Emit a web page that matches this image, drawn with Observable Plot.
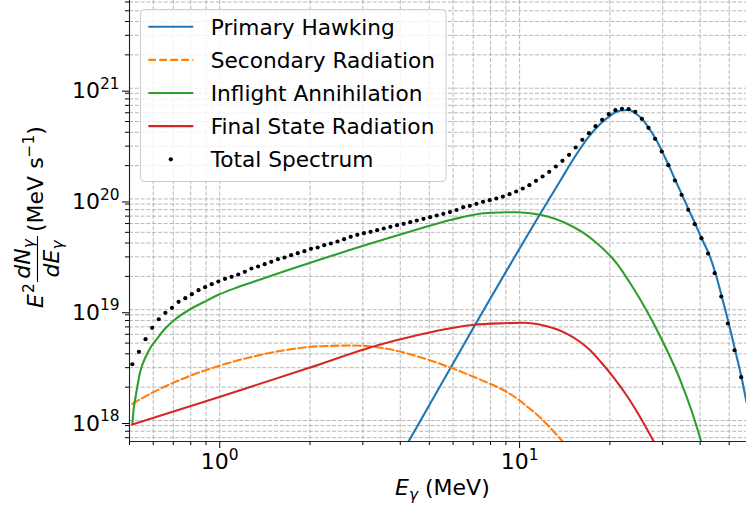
<!DOCTYPE html>
<html><head><meta charset="utf-8">
<script src="https://cdn.jsdelivr.net/npm/d3@7"></script>
<script src="https://cdn.jsdelivr.net/npm/@observablehq/plot@0.6"></script>
<style>
html,body{margin:0;padding:0;background:#fff;}
#chart{width:746px;height:506px;overflow:hidden;}
svg{font-family:"DejaVu Sans",sans-serif;}
</style></head><body><div id="chart"></div>
<script>
// ---------- data ----------
const seriesNames = ["Primary Hawking","Secondary Radiation","Inflight Annihilation","Final State Radiation","Total Spectrum"];

const E_total = [0.511,0.5377,0.5655,0.595,0.626,0.6586,0.6929,0.729,0.7674,0.8072,
0.8494,0.8937,0.9402,0.9892,1.0409,1.0952,1.1522,1.2123,1.2755,1.3419,
1.4119,1.4855,1.5629,1.6444,1.7302,1.8205,1.9154,2.0153,2.1204,2.2307,
2.347,2.4694,2.5981,2.7336,2.8761,3.0259,3.1838,3.3497,3.5244,3.7076,
3.901,4.1044,4.3179,4.5431,4.7799,5.0292,5.2915,5.5674,5.8577,6.1631,
6.4844,6.8234,7.1779,7.5522,7.947,8.3603,8.7963,9.255,9.7387,10.245,
10.779,11.342,11.93,12.553,13.208,13.895,14.622,15.385,16.188,17.028,
17.917,18.852,19.832,20.866,21.955,23.097,24.302,25.57,26.904,28.305,
29.785,31.338,32.966,34.688,36.497,38.398,40.402,42.511,44.728,47.053,
49.508,52.091,54.802];
const total = [3.22e18,4.17e18,5.42e18,6.87e18,8.21e18,9.38e18,1.041e19,1.179e19,1.271e19,1.381e19,
1.501e19,1.597e19,1.700e19,1.798e19,1.902e19,1.983e19,2.080e19,2.20e19,2.356e19,2.456e19,
2.576e19,2.71e19,2.858e19,2.961e19,3.107e19,3.238e19,3.376e19,3.548e19,3.645e19,3.824e19,
3.962e19,4.130e19,4.332e19,4.553e19,4.746e19,4.907e19,5.052e19,5.224e19,5.411e19,5.606e19,
5.795e19,5.966e19,6.168e19,6.390e19,6.620e19,6.844e19,7.090e19,7.345e19,7.62e19,7.95e19,
8.426e19,8.676e19,9.044e19,9.428e19,9.746e19,1.010e20,1.052e20,1.104e20,1.168e20,1.243e20,
1.331e20,1.458e20,1.595e20,1.759e20,1.963e20,2.211e20,2.505e20,2.915e20,3.421e20,3.924e20,
4.540e20,5.183e20,5.825e20,6.329e20,6.516e20,6.462e20,6.122e20,5.292e20,4.389e20,3.492e20,
2.683e20,2.017e20,1.468e20,1.090e20,7.982e19,5.918e19,4.423e19,3.218e19,2.137e19,1.317e19,
7.51e18,4.31e18,2.46e18];

const E_primary = [4.262,7.023,11.72,13.68,15.14,16.79,18.60,20.08,21.69,23.11,24.66,25.67,26.95,28.44,29.87,31.43,33.09,34.83,36.65,38.58,40.42,42.74,45.0,47.23,49.84,52.36,54.95,57.11];
const primary = [6.46e17,6.911e18,7.345e19,1.468e20,2.305e20,3.492e20,4.770e20,5.668e20,6.29e20,6.356e20,5.789e20,5.238e20,4.389e20,3.492e20,2.683e20,2.017e20,1.468e20,1.09e20,7.982e19,5.918e19,4.423e19,3.218e19,2.137e19,1.317e19,7.51e18,4.31e18,2.46e18,1.463e18];

const E_secondary = [0.511,0.6002,0.7757,1.0023,1.2943,1.6733,2.162,2.7919,3.6101,4.663,6.023,7.785,8.624,9.802,10.69,11.72,12.76,13.92];
const secondary = [1.415e18,1.801e18,2.459e18,3.137e18,3.782e18,4.347e18,4.685e18,4.753e18,4.439e18,3.727e18,2.928e18,2.203e18,1.945e18,1.58e18,1.31e18,1.064e18,8.38e17,6.46e17];

const E_inflight = [0.511,0.5156,0.5236,0.544,0.563,0.5851,0.6175,0.6566,0.7091,0.7838,0.8798,0.9947,1.1422,1.262,1.652,2.162,2.829,3.702,4.663,5.872,7.803,9.802,11.72,14.396,17.66,21.14,23.42,26.63,30.24,34.39,37.63,40.33];
const inflight = [9.2e17,1.231e18,1.613e18,2.828e18,3.628e18,4.467e18,5.467e18,6.726e18,8.161e18,9.84e18,1.162e19,1.373e19,1.587e19,1.743e19,2.237e19,2.841e19,3.585e19,4.488e19,5.411e19,6.458e19,7.469e19,7.594e19,7.194e19,5.966e19,4.217e19,2.598e19,1.725e19,9.64e18,4.956e18,2.296e18,1.181e18,6.46e17];

const E_fsr = [0.511,1.0023,2.0017,3.342,4.663,6.023,7.023,8.843,10.31,12.03,14.40,17.22,18.60,20.60,22.88,25.28,28.02];
const fsr = [9.2e17,1.637e18,3.01e18,4.753e18,5.975e18,6.869e18,7.311e18,7.557e18,7.621e18,7.205e18,6.062e18,4.284e18,3.409e18,2.444e18,1.647e18,1.064e18,6.46e17];

const xMajorTicks = [1, 10];
const xMinorTicks = [0.5,0.6,0.7,0.8,0.9,2,3,4,5,6,7,8,9,20,30,40,50];
const yMajorTicks = [1e18,1e19,1e20,1e21];
const yMinorTicks = [7e17,8e17,9e17,2e18,3e18,4e18,5e18,6e18,7e18,8e18,9e18,
  2e19,3e19,4e19,5e19,6e19,7e19,8e19,9e19,2e20,3e20,4e20,5e20,6e20,7e20,8e20,9e20,
  2e21,3e21,4e21,5e21,6e21];

// ---------- chart ----------
const colors = ["#1f77b4","#ff7f0e","#2ca02c","#d62728","#000000"];
const xDomain = [0.5, 57.11], yDomain = [6.464e17, 6.19e21];
const rows = (E, V) => E.map((e, i) => ({E: e, v: V[i]}));
const gridStyle = {stroke: "#b0b0b0", strokeWidth: 0.9, strokeDasharray: "4,1.8"};
const lineOpts = {x: "E", y: "v", strokeWidth: 2.1, curve: "monotone-x", clip: true};
const sup = d => "10^" + Math.round(Math.log10(d));

const plot = Plot.plot({
  width: 746, height: 506,
  marginLeft: 129, marginRight: 0, marginTop: 0, marginBottom: 65,
  style: {fontFamily: '"DejaVu Sans", sans-serif', background: "#fff", color: "#000", overflow: "visible"},
  x: {type: "log", domain: xDomain, label: null},
  y: {type: "log", domain: yDomain, label: null},
  marks: [
    Plot.ruleX([...xMajorTicks, ...xMinorTicks], gridStyle),
    Plot.ruleY([...yMajorTicks, ...yMinorTicks], gridStyle),
    Plot.line(rows(E_primary, primary), {...lineOpts, stroke: colors[0]}),
    Plot.line(rows(E_secondary, secondary), {...lineOpts, stroke: colors[1], strokeDasharray: "7.7,3.3"}),
    Plot.line(rows(E_inflight, inflight), {...lineOpts, stroke: colors[2]}),
    Plot.line(rows(E_fsr, fsr), {...lineOpts, stroke: colors[3]}),
    Plot.dot(rows(E_total, total), {x: "E", y: "v", r: 2.1, fill: colors[4], stroke: "none", clip: true}),
    Plot.axisX({ticks: xMajorTicks, tickSize: 7, tickPadding: 5, fontSize: 22, label: null, tickFormat: sup}),
    Plot.axisX({ticks: xMinorTicks, tickSize: 4, label: null, tickFormat: () => ""}),
    Plot.axisY({ticks: yMajorTicks, tickSize: 7, tickPadding: 3, fontSize: 22, dy: 3, label: null, tickFormat: sup}),
    Plot.axisY({ticks: yMinorTicks, tickSize: 4, label: null, tickFormat: () => ""}),
    Plot.ruleX([xDomain[0]], {stroke: "#222", strokeWidth: 1.1}),
    Plot.ruleY([yDomain[0]], {stroke: "#222", strokeWidth: 1.1})
  ]
});
document.getElementById("chart").appendChild(plot);

const svg = d3.select(plot);
// superscript tick labels like matplotlib mathtext
svg.selectAll("text").each(function () {
  const m = /^10\^(-?\d+)$/.exec(this.textContent);
  if (m) {
    const el = d3.select(this);
    el.text(null);
    el.append("tspan").text("10");
    el.append("tspan").attr("dy", -9.5).attr("font-size", 15.4).text(m[1].replace("-", "\u2212"));
  }
});

// x label
const xl = svg.append("text").attr("x", 395).attr("y", 495).attr("font-size", 22)
  .attr("fill", "#000").attr("text-anchor", "start");
xl.append("tspan").attr("font-style", "italic").text("E");
xl.append("tspan").attr("font-style", "italic").attr("font-size", 15.4).attr("dy", 5).text("γ");
xl.append("tspan").attr("dy", -5).text(" (MeV)");

// y label (rotated)
const yl = svg.append("g").attr("transform", "rotate(-90)").attr("font-size", 22)
  .attr("fill", "#000").attr("text-anchor", "start");
yl.append("text").attr("x", -308).attr("y", 43).attr("font-style", "italic").text("E");
yl.append("text").attr("x", -293).attr("y", 34).attr("font-size", 15.4).text("2");
const num = yl.append("text").attr("x", -259).attr("y", 30).attr("text-anchor", "middle").attr("font-style", "italic");
num.append("tspan").text("dN");
num.append("tspan").attr("dy", 4).attr("font-size", 15.4).text("γ");
const den = yl.append("text").attr("x", -259).attr("y", 59).attr("text-anchor", "middle").attr("font-style", "italic");
den.append("tspan").text("dE");
den.append("tspan").attr("dy", 4).attr("font-size", 15.4).text("γ");
yl.append("line").attr("x1", -282).attr("x2", -236).attr("y1", 37.5).attr("y2", 37.5).attr("stroke", "#000").attr("stroke-width", 1.1);
const un = yl.append("text").attr("x", -232).attr("y", 43);
un.append("tspan").text("(MeV s");
un.append("tspan").attr("dy", -9).attr("font-size", 15.4).text("\u22121");
un.append("tspan").attr("dy", 9).text(")");

// legend
const lg = svg.append("g").attr("font-size", 21.7).attr("text-anchor", "start");
lg.append("rect").attr("x", 140.5).attr("y", 9.5).attr("width", 305.5).attr("height", 172)
  .attr("rx", 4).attr("fill", "#fff").attr("fill-opacity", 0.8).attr("stroke", "#cccccc").attr("stroke-width", 1);
seriesNames.forEach((name, i) => {
  const cy = 26.7 + i * 33.15;
  if (i < 4) {
    lg.append("line").attr("x1", 148.3).attr("x2", 193.3).attr("y1", cy).attr("y2", cy)
      .attr("stroke", colors[i]).attr("stroke-width", 2.1)
      .attr("stroke-dasharray", i === 1 ? "7.7,3.3" : null);
  } else {
    lg.append("circle").attr("cx", 170.8).attr("cy", cy).attr("r", 2.1).attr("fill", colors[i]);
  }
  lg.append("text").attr("x", 210.7).attr("y", cy + 8).attr("fill", "#000").text(name);
});
</script></body></html>
